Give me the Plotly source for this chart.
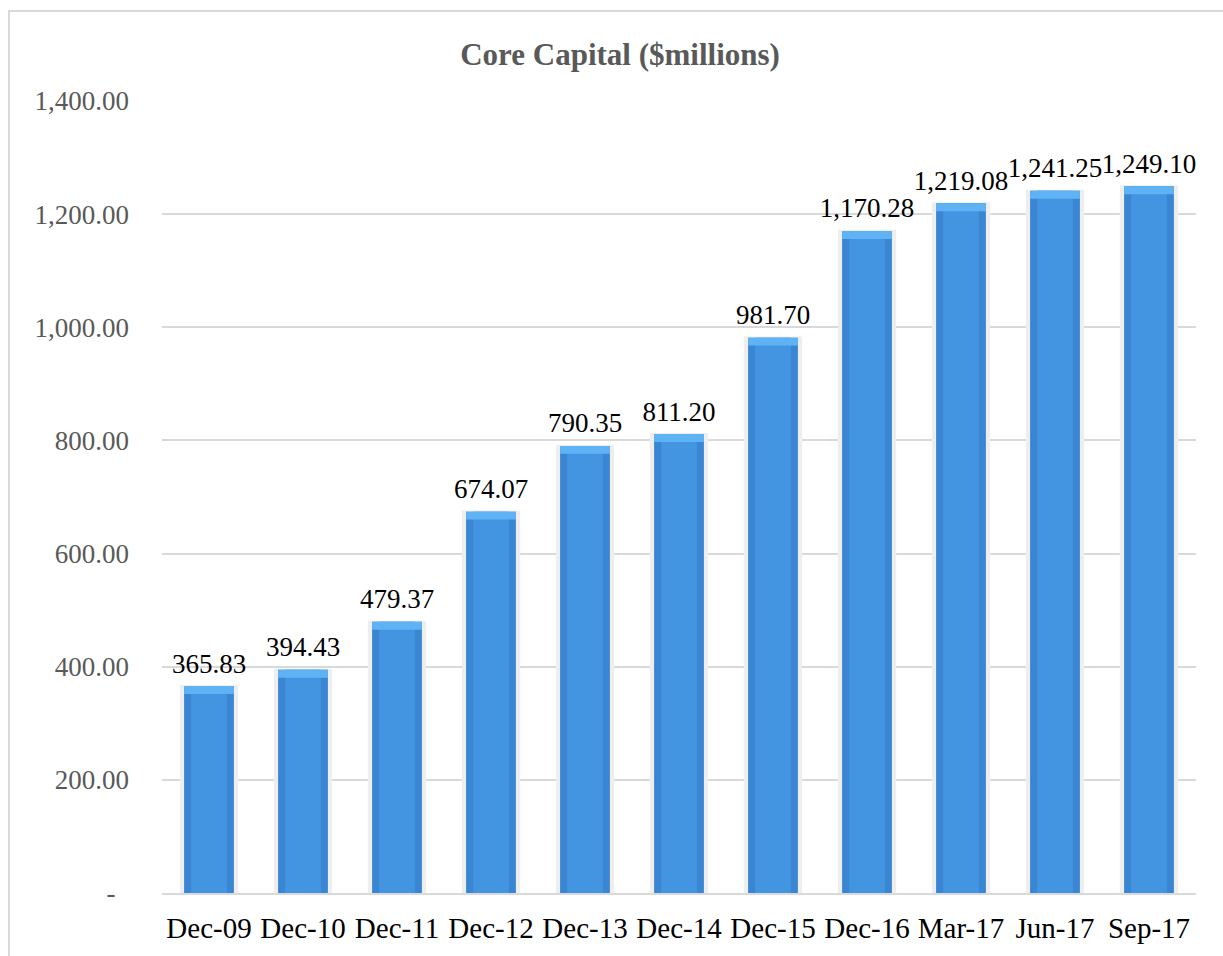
import plotly.graph_objects as go

categories = ["Dec-09", "Dec-10", "Dec-11", "Dec-12", "Dec-13", "Dec-14",
              "Dec-15", "Dec-16", "Mar-17", "Jun-17", "Sep-17"]
core_capital = [365.83, 394.43, 479.37, 674.07, 790.35, 811.20,
                981.70, 1170.28, 1219.08, 1241.25, 1249.10]
y_tick_values = [0, 200, 400, 600, 800, 1000, 1200, 1400]
y_tick_labels = ["-\u00a0\u00a0", "200.00", "400.00", "600.00", "800.00",
                 "1,000.00", "1,200.00", "1,400.00"]

FONT = "Liberation Serif, Times New Roman, serif"
labels = [f"{v:,.2f}" for v in core_capital]

fig = go.Figure()
# soft shadow behind bars
fig.add_trace(go.Bar(x=categories, y=[v + 2 for v in core_capital], width=0.62,
                     marker=dict(color="#eeeeee", line=dict(width=0)),
                     hoverinfo="skip", showlegend=False))
# main bar (darker edges)
fig.add_trace(go.Bar(x=categories, y=core_capital, width=0.53,
                     marker=dict(color="#3a86d2", line=dict(width=0)),
                     showlegend=False))
# lighter centre band
fig.add_trace(go.Bar(x=categories, y=core_capital, width=0.38,
                     marker=dict(color="#4394e1", line=dict(width=0)),
                     hoverinfo="skip", showlegend=False))
# bevelled top cap
fig.add_trace(go.Bar(x=categories, y=[14] * len(core_capital),
                     base=[v - 14 for v in core_capital], width=0.53,
                     marker=dict(color="#5fb3f4", line=dict(width=0)),
                     hoverinfo="skip", showlegend=False))
# data labels (transparent carrier bar, slightly padded above the bars)
fig.add_trace(go.Bar(x=categories, y=[v + 8 for v in core_capital], width=0.53,
                     marker=dict(color="rgba(0,0,0,0)", line=dict(width=0)),
                     text=labels, textposition="outside", constraintext="none",
                     textfont=dict(family=FONT, size=27, color="#000000"),
                     cliponaxis=False, hoverinfo="skip", showlegend=False))

fig.update_layout(
    barmode="overlay",
    width=1223, height=956,
    margin=dict(l=162, r=27, t=101, b=63),
    paper_bgcolor="white", plot_bgcolor="white",
    title=dict(text="<b>Core Capital ($millions)</b>", x=0.507, xanchor="center",
               y=0.943, yanchor="middle",
               font=dict(family=FONT, size=31, color="#595959")),
    font=dict(family=FONT),
    xaxis=dict(showgrid=False, showline=True, linecolor="#d9d9d9", linewidth=2,
               ticks="", tickfont=dict(family=FONT, size=29, color="#000000"),
               ticklabelstandoff=8),
    yaxis=dict(range=[0, 1400], tickvals=y_tick_values, ticktext=y_tick_labels,
               showgrid=True, gridcolor="#d9d9d9", gridwidth=1.5,
               zeroline=False, showline=False, ticks="",
               tickfont=dict(family=FONT, size=27, color="#595959"),
               ticklabelstandoff=32),
    shapes=[dict(type="rect", xref="paper", yref="paper",
                 x0=-0.148, x1=1.03, y0=-0.09, y1=1.1136,
                 line=dict(color="#d9d9d9", width=2), fillcolor="rgba(0,0,0,0)",
                 layer="below")],
)

fig.write_html("out.html")
